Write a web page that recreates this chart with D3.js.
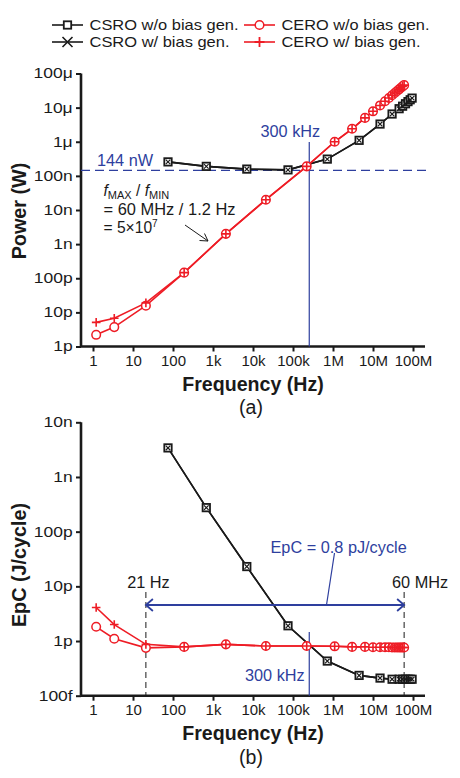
<!DOCTYPE html>
<html><head><meta charset="utf-8">
<script src="https://cdn.jsdelivr.net/npm/d3@7"></script>
<style>
html,body{margin:0;padding:0;background:#fff;}
svg{display:block;font-family:"Liberation Sans",Arial,Helvetica,sans-serif;}
</style></head>
<body>
<svg id="c" width="460" height="778"></svg>
<script>
// ---------- data ----------
const xTickValues = [1,10,100,1e3,1e4,1e5,1e6,1e7,1e8];
const xTickLabels = ["1","10","100","1k","10k","100k","1M","10M","100M"];
const pTickValues = [1e-12,1e-11,1e-10,1e-9,1e-8,1e-7,1e-6,1e-5,1e-4];
const pTickLabels = ["1p","10p","100p","1n","10n","100n","1μ","10μ","100μ"];
const eTickValues = [1e-13,1e-12,1e-11,1e-10,1e-9,1e-8];
const eTickLabels = ["100f","1p","10p","100p","1n","10n"];

const csroFreq  = [75,680,7e3,75e3,720e3,4.5e6,15e6,30e6,45e6,55e6,65e6,75e6,85e6,95e6];
const csroPower = [257e-9,190e-9,158e-9,150e-9,310e-9,1.1e-6,3.3e-6,6.5e-6,9.3e-6,11e-6,13e-6,15e-6,17e-6,19e-6];
const csroEpC   = [3.4e-9,275e-12,23e-12,1.9e-12,0.43e-12,0.235e-12,0.21e-12,0.2e-12,0.2e-12,0.2e-12,0.2e-12,0.2e-12,0.2e-12,0.2e-12];
const csroBiasPower = csroPower.slice();
const csroBiasEpC   = csroEpC.slice();

const ceroFreq  = [1.2,3.4,21,190,2.1e3,21e3,220e3,1.1e6,3e6,6.3e6,10e6,15e6,20e6,25e6,30e6,35e6,40e6,45e6,50e6,55e6,60e6];
const ceroPower = [2.2e-12,3.7e-12,15.7e-12,146e-12,2.0e-9,20e-9,190e-9,1.0e-6,2.4e-6,5.0e-6,7.8e-6,11.6e-6,15.4e-6,19.2e-6,23e-6,26.8e-6,30.6e-6,34.4e-6,38.2e-6,42e-6,45.6e-6];
const ceroEpC   = [1.82e-12,1.1e-12,0.75e-12,0.78e-12,0.87e-12,0.81e-12,0.81e-12,0.80e-12,0.78e-12,0.78e-12,0.77e-12,0.77e-12,0.77e-12,0.77e-12,0.76e-12,0.76e-12,0.76e-12,0.76e-12,0.76e-12,0.76e-12,0.76e-12];
const ceroBiasPower = [5.1e-12,6.7e-12,19e-12,146e-12,2.0e-9,20e-9,190e-9,1.0e-6,2.4e-6,5.0e-6,7.8e-6,11.6e-6,15.4e-6,19.2e-6,23e-6,26.8e-6,30.6e-6,34.4e-6,38.2e-6,42e-6,45.6e-6];
const ceroBiasEpC   = [4.1e-12,2.0e-12,0.87e-12,0.78e-12,0.87e-12,0.81e-12,0.81e-12,0.80e-12,0.78e-12,0.78e-12,0.77e-12,0.77e-12,0.77e-12,0.77e-12,0.76e-12,0.76e-12,0.76e-12,0.76e-12,0.76e-12,0.76e-12,0.76e-12];

const refPower = 144e-9;       // 144 nW
const refFreq = 2.55e5;        // "300 kHz" marker line
const fMinRange = 21, fMaxRange = 60e6;

const seriesNames = ["CSRO w/o bias gen.","CSRO w/ bias gen.","CERO w/o bias gen.","CERO w/ bias gen."];

// ---------- drawing ----------
const svg = d3.select("#c");
const BLACK="#1a1a1a", RED="#ee1c25", BLUE="#2e3f9e";
const AF = 16.3; // annotation font size
const xL=81, xR=425;
const x = d3.scaleLog().domain([Math.pow(10,-12/40), Math.pow(10,8+12/40)]).range([xL,xR]);

function drawPanel(yScale, tickVals, tickLabs, yTitle, yTop, yBot, titleY){
  const g = svg.append("g");
  const xa = g.append("g").attr("transform",`translate(0,${yBot})`)
    .call(d3.axisBottom(x).tickValues(xTickValues).tickFormat((d,i)=>xTickLabels[i]).tickSize(5).tickPadding(4));
  xa.select(".domain").attr("d",`M${xL},0H${xR}`).attr("stroke",BLACK).attr("stroke-width",2.6);
  xa.selectAll(".tick line").attr("stroke",BLACK).attr("stroke-width",2);
  xa.selectAll(".tick text").attr("font-size",15).attr("fill",BLACK);
  const ya = g.append("g").attr("transform",`translate(${xL},0)`)
    .call(d3.axisLeft(yScale).tickValues(tickVals).tickFormat((d,i)=>tickLabs[i]).tickSize(5).tickPadding(3));
  ya.select(".domain").attr("d",`M0,${yTop}V${yBot}`).attr("stroke",BLACK).attr("stroke-width",2.6);
  ya.selectAll(".tick line").attr("stroke",BLACK).attr("stroke-width",2);
  const sx = 1.25;
  ya.selectAll(".tick text").attr("font-size",14).attr("fill",BLACK)
    .attr("x",-8.3/sx).attr("transform",`scale(${sx},1)`);
  g.append("text").attr("x",253).attr("y",yBot+44).attr("text-anchor","middle")
    .attr("font-size",19.6).attr("font-weight","bold").attr("fill",BLACK).text("Frequency (Hz)");
  g.append("text").attr("transform",`translate(26,${titleY}) rotate(-90)`).attr("text-anchor","middle")
    .attr("font-size",19.8).attr("font-weight","bold").attr("fill",BLACK).text(yTitle);
  return g;
}

function lineOf(g, fr, vals, y, color){
  const pts = fr.map((f,i)=>[x(f), y(vals[i])]);
  g.append("path").attr("d",d3.line()(pts)).attr("fill","none").attr("stroke",color).attr("stroke-width",1.6);
  return pts;
}
function squares(g, pts){
  g.selectAll(null).data(pts).join("rect").attr("x",d=>d[0]-3.7).attr("y",d=>d[1]-3.7)
    .attr("width",7.4).attr("height",7.4).attr("fill","#fff").attr("stroke",BLACK).attr("stroke-width",1.8);
}
function crosses(g, pts, s, color, w){
  g.selectAll(null).data(pts).join("path")
    .attr("d",d=>`M${d[0]-s},${d[1]-s}L${d[0]+s},${d[1]+s}M${d[0]-s},${d[1]+s}L${d[0]+s},${d[1]-s}`)
    .attr("stroke",color).attr("stroke-width",w).attr("fill","none");
}
function circles(g, pts){
  g.selectAll(null).data(pts).join("circle").attr("cx",d=>d[0]).attr("cy",d=>d[1]).attr("r",4.3)
    .attr("fill","#fff").attr("stroke",RED).attr("stroke-width",1.5);
}
function pluses(g, pts, s, color, w){
  g.selectAll(null).data(pts).join("path")
    .attr("d",d=>`M${d[0]-s},${d[1]}H${d[0]+s}M${d[0]},${d[1]-s}V${d[1]+s}`)
    .attr("stroke",color).attr("stroke-width",w).attr("fill","none");
}
function drawSeries(g, y, cP, cbP, eP, ebP){
  const a = lineOf(g, csroFreq, cP, y, BLACK);
  const b = lineOf(g, csroFreq, cbP, y, BLACK);
  const c = lineOf(g, ceroFreq, eP, y, RED);
  const d = lineOf(g, ceroFreq, ebP, y, RED);
  squares(g, a); crosses(g, b, 2.3, BLACK, 1.2);
  circles(g, c); pluses(g, d, 4.3, RED, 1.6);
}
function ann(g, tx, ty, str, color, anchor){
  return g.append("text").attr("x",tx).attr("y",ty).attr("font-size",AF).attr("fill",color)
    .attr("text-anchor",anchor||"start").text(str);
}

// ----- panel (a) -----
const yA = d3.scaleLog().domain([1e-12,1e-4]).range([346.5,73.5]);
const gA = drawPanel(yA, pTickValues, pTickLabels, "Power (W)", 73.5, 346.5, 211);
gA.append("line").attr("x1",xL).attr("x2",431).attr("y1",yA(refPower)).attr("y2",yA(refPower))
  .attr("stroke",BLUE).attr("stroke-width",1.2).attr("stroke-dasharray","9,5");
ann(gA, 97, 166, "144 nW", BLUE);
gA.append("line").attr("x1",x(refFreq)).attr("x2",x(refFreq)).attr("y1",142).attr("y2",346.5)
  .attr("stroke",BLUE).attr("stroke-width",1.2);
ann(gA, 260.5, 137, "300 kHz", BLUE);
drawSeries(gA, yA, csroPower, csroBiasPower, ceroPower, ceroBiasPower);
const RF = 15.6; // ratio annotation font
const t1 = gA.append("text").attr("x",103.5).attr("y",196).attr("font-size",RF).attr("fill",BLACK);
t1.append("tspan").attr("font-style","italic").text("f");
t1.append("tspan").attr("font-size",11).attr("dy",2.5).text("MAX");
t1.append("tspan").attr("dy",-2.5).text(" / ");
t1.append("tspan").attr("font-style","italic").text("f");
t1.append("tspan").attr("font-size",11).attr("dy",2.5).text("MIN");
gA.append("text").attr("x",103.5).attr("y",214.7).attr("font-size",RF).attr("fill",BLACK)
  .attr("textLength",132).attr("lengthAdjust","spacingAndGlyphs").text("= 60 MHz / 1.2 Hz");
const t3 = gA.append("text").attr("x",103.5).attr("y",233.3).attr("font-size",RF).attr("fill",BLACK);
t3.append("tspan").text("= 5×10");
t3.append("tspan").attr("font-size",10).attr("dy",-6.5).text("7");
gA.append("path").attr("d","M185,225L208,241").attr("stroke",BLACK).attr("stroke-width",1);
gA.append("path").attr("d","M199.5,240.5L208,241L204.5,233.5").attr("stroke",BLACK).attr("stroke-width",1).attr("fill","none");
gA.append("text").attr("x",251).attr("y",414).attr("text-anchor","middle").attr("font-size",19.5).attr("fill",BLACK).text("(a)");

// ----- panel (b) -----
const yB = d3.scaleLog().domain([1e-13,1e-8]).range([695.7,422.3]);
const gB = drawPanel(yB, eTickValues, eTickLabels, "EpC (J/cycle)", 422.3, 695.7, 565);
[fMinRange, fMaxRange].forEach(f=>{
  gB.append("line").attr("x1",x(f)).attr("x2",x(f)).attr("y1",592).attr("y2",695.7)
    .attr("stroke",BLACK).attr("stroke-width",1).attr("stroke-dasharray","6,4");
});
gB.append("line").attr("x1",x(refFreq)).attr("x2",x(refFreq)).attr("y1",632).attr("y2",695.7)
  .attr("stroke",BLUE).attr("stroke-width",1.2);
ann(gB, 245, 681, "300 kHz", BLUE);
drawSeries(gB, yB, csroEpC, csroBiasEpC, ceroEpC, ceroBiasEpC);
const ay = 605, ax1 = x(fMinRange), ax2 = x(fMaxRange);
gB.append("line").attr("x1",ax1).attr("x2",ax2).attr("y1",ay).attr("y2",ay).attr("stroke",BLUE).attr("stroke-width",2);
gB.append("path").attr("d",`M${ax1+7},${ay-6}L${ax1},${ay}L${ax1+7},${ay+6}M${ax2-7},${ay-6}L${ax2},${ay}L${ax2-7},${ay+6}`)
  .attr("stroke",BLUE).attr("stroke-width",1.8).attr("fill","none");
gB.append("path").attr("d",`M334.5,553L326.5,${ay}`).attr("stroke",BLUE).attr("stroke-width",1.2);
ann(gB, 270.5, 553, "EpC = 0.8 pJ/cycle", BLUE);
ann(gB, 148.5, 588, "21 Hz", BLACK, "middle");
ann(gB, 392, 588, "60 MHz", BLACK);
gB.append("text").attr("x",251).attr("y",764).attr("text-anchor","middle").attr("font-size",19.5).attr("fill",BLACK).text("(b)");

// ----- legend -----
const lg = svg.append("g");
const legendItems = [
  {name:seriesNames[0], x:52, y:25, color:BLACK, mk:"sq", len:149},
  {name:seriesNames[1], x:52, y:42, color:BLACK, mk:"x", len:140},
  {name:seriesNames[2], x:244, y:25, color:RED, mk:"ci", len:148},
  {name:seriesNames[3], x:244, y:42, color:RED, mk:"pl", len:139}
];
legendItems.forEach(it=>{
  lg.append("line").attr("x1",it.x).attr("x2",it.x+31).attr("y1",it.y).attr("y2",it.y).attr("stroke",it.color).attr("stroke-width",1.6);
  const p=[[it.x+15.5,it.y]];
  if(it.mk==="sq") squares(lg,p);
  if(it.mk==="x") crosses(lg,p,5,BLACK,1.6);
  if(it.mk==="ci") circles(lg,p);
  if(it.mk==="pl") pluses(lg,p,5,RED,1.8);
  lg.append("text").attr("x",it.x+37.5).attr("y",it.y+5.3).attr("font-size",14.5).attr("fill",BLACK)
    .attr("textLength",it.len).attr("lengthAdjust","spacingAndGlyphs").text(it.name);
});
</script>
</body></html>
